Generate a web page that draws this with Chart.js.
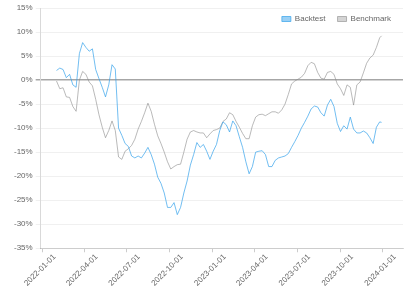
<!DOCTYPE html>
<html lang="en">
<head>
    <meta charset="UTF-8">
    <title>Backtest vs Benchmark</title>
    <script src="https://cdn.jsdelivr.net/npm/chart.js"></script>
    <style>
        html, body { margin: 0; padding: 0; background: #fff; }
        #wrap { width: 409px; height: 288px; }
    </style>
</head>
<body>
    <div id="wrap"><canvas id="perfChart"></canvas></div>

    <script>
        // Weekly observation dates
        const dates = [
            "2022-01-31","2022-02-07","2022-02-14","2022-02-21","2022-02-28","2022-03-07","2022-03-14","2022-03-21","2022-03-28",
            "2022-04-04","2022-04-11","2022-04-18","2022-04-25","2022-05-02","2022-05-09","2022-05-16","2022-05-23","2022-05-30",
            "2022-06-06","2022-06-13","2022-06-20","2022-06-27","2022-07-04","2022-07-11","2022-07-18","2022-07-25",
            "2022-08-01","2022-08-08","2022-08-15","2022-08-22","2022-08-29","2022-09-05","2022-09-12","2022-09-19","2022-09-26",
            "2022-10-03","2022-10-10","2022-10-17","2022-10-24","2022-10-31","2022-11-07","2022-11-14","2022-11-21","2022-11-28",
            "2022-12-05","2022-12-12","2022-12-19","2022-12-26",
            "2023-01-02","2023-01-09","2023-01-16","2023-01-23","2023-01-30","2023-02-06","2023-02-13","2023-02-20","2023-02-27",
            "2023-03-06","2023-03-13","2023-03-20","2023-03-27","2023-04-03","2023-04-10","2023-04-17","2023-04-24",
            "2023-05-01","2023-05-08","2023-05-15","2023-05-22","2023-05-29","2023-06-05","2023-06-12","2023-06-19","2023-06-26",
            "2023-07-03","2023-07-10","2023-07-17","2023-07-24","2023-07-31","2023-08-07","2023-08-14","2023-08-21","2023-08-28",
            "2023-09-04","2023-09-11","2023-09-18","2023-09-25","2023-10-02","2023-10-09","2023-10-16","2023-10-23","2023-10-30",
            "2023-11-06","2023-11-13","2023-11-20","2023-11-27","2023-12-04","2023-12-11","2023-12-18","2023-12-25","2023-12-29"
        ];

        // Cumulative return (%) of the strategy
        const backtest = [
            2, 2.5, 2.2, 0.5, 1.2, -1, -1.5, 5.5, 7.8,
            6.8, 6, 6.5, 2.2, 0.3, -1.5, -3.5, -1, 3.2,
            2.3, -10, -11.5, -13.2, -13.8, -15.8, -16.2, -15.8,
            -16.2, -15.2, -14, -15.5, -17.5, -20.2, -21.5, -23.5, -26.5,
            -26.5, -25.5, -28, -26.5, -23.5, -21, -17.7, -15.5, -13,
            -14, -13.4, -14.8, -16.5,
            -14.8, -13.4, -10.5, -8.7, -9.3, -10.8, -8.5, -9.5, -11.8,
            -14, -17, -19.5, -18, -15, -14.8, -14.7, -15.5,
            -18, -18, -16.7, -16.2, -16, -15.8, -15.3, -14, -12.8,
            -11.5, -10, -8.8, -7.5, -6, -5.4, -5.6, -6.8, -7.5,
            -5.2, -4, -5.5, -9, -10.7, -9.5, -10.2, -7.7, -10.2,
            -11, -11, -10.6, -11, -12, -13.2, -9.8, -8.7, -8.8
        ];

        // Cumulative return (%) of the benchmark
        const benchmark = [
            -0.2, -1.8, -1.6, -3.5, -3.6, -5.5, -6.5, 0, 1.8,
            1.2, -0.4, -1.2, -4, -7.2, -9.8, -12, -10.5, -8.5,
            -10.5, -16, -16.5, -14.8, -14.3, -13.6, -12.3, -10.2,
            -8.6, -6.8, -4.8, -6.5, -9.2, -11.6, -13.2, -15, -17,
            -18.5, -18, -17.6, -17.5, -15, -12.3, -10.8, -10.5, -10.8,
            -11, -11, -12, -11.2,
            -10.5, -10.3, -10, -8.6, -8.1, -6.8, -7.2, -8.6, -9.8,
            -11.1, -12.2, -12.2, -9.5, -7.7, -7.2, -7.1, -7.4,
            -7, -6.6, -6.6, -6.9, -6.2, -5, -3, -0.8, -0.2,
            0.2, 0.6, 1.4, 3, 3.7, 3.4, 1.6, 0.4, 0.2,
            1.6, 1.8, 1.2, -0.8, -1.8, -3.2, -1, -1.5, -5.2,
            -1, -0.4, 1.5, 3.5, 4.6, 5.2, 6.8, 8.8, 9.2
        ];

        // Quarter start labels on the x axis
        const tickDates = [
            "2022-01-01","2022-04-01","2022-07-01","2022-10-01",
            "2023-01-01","2023-04-01","2023-07-01","2023-10-01","2024-01-01"
        ];

        const yTicks = [15, 10, 5, 0, -5, -10, -15, -20, -25, -30, -35];

        // days since the first quarter label
        const origin = Date.parse(tickDates[0]);
        const dayOf = d => (Date.parse(d) - origin) / 86400000;
        const toDate = n => new Date(origin + n * 86400000).toISOString().slice(0, 10);

        // legend sits on top of the plot, so it takes no room in the layout
        const overlayLegend = {
            id: "overlayLegend",
            afterInit(chart) {
                const legend = chart.legend;
                const fit = legend.fit;
                const draw = legend.draw;
                const lift = 5;
                legend.fit = function () {
                    fit.call(this);
                    this._realHeight = this.height;
                    this.height = 0;
                };
                legend.draw = function () {
                    const top = this.top;
                    this.top = top - lift;
                    this.height = this._realHeight;
                    this.bottom = this.top + this._realHeight;
                    draw.call(this);
                    this.top = top;
                    this.height = 0;
                    this.bottom = top;
                };
            }
        };

        const ctx = document.getElementById("perfChart").getContext("2d");

        new Chart(ctx, {
            type: "line",
            data: {
                datasets: [
                    {
                        label: "Backtest",
                        data: dates.map((d, i) => ({ x: dayOf(d), y: backtest[i] })),
                        borderColor: "rgba(54, 162, 235, 0.7)",
                        backgroundColor: "rgba(54, 162, 235, 0.5)",
                        borderWidth: 1,
                        pointRadius: 0,
                        tension: 0
                    },
                    {
                        label: "Benchmark",
                        data: dates.map((d, i) => ({ x: dayOf(d), y: benchmark[i] })),
                        borderColor: "rgba(140, 140, 140, 0.6)",
                        backgroundColor: "rgba(170, 170, 170, 0.5)",
                        borderWidth: 1,
                        pointRadius: 0,
                        tension: 0
                    }
                ]
            },
            plugins: [overlayLegend],
            options: {
                responsive: true,
                maintainAspectRatio: false,
                animation: false,
                layout: { padding: { top: 8, right: 6, left: 11, bottom: 0 } },
                plugins: {
                    legend: {
                        position: "top",
                        align: "end",
                        labels: {
                            boxWidth: 9,
                            boxHeight: 5,
                            padding: 12,
                            color: "#666",
                            font: { size: 8, family: "Liberation Sans" }
                        }
                    },
                    tooltip: { enabled: false }
                },
                scales: {
                    x: {
                        type: "linear",
                        min: -4,
                        max: 773,
                        afterBuildTicks: axis => {
                            axis.ticks = tickDates.map(d => ({ value: dayOf(d) }));
                        },
                        ticks: {
                            callback: v => toDate(v),
                            minRotation: 45,
                            maxRotation: 45,
                            labelOffset: 12,
                            padding: 0,
                            color: "#666",
                            font: { size: 8, family: "Liberation Sans" }
                        },
                        grid: { drawOnChartArea: false, tickLength: 4, color: "rgba(0,0,0,0.2)" },
                        border: { color: "rgba(0,0,0,0.15)" }
                    },
                    y: {
                        min: -35,
                        max: 15,
                        afterBuildTicks: axis => {
                            axis.ticks = yTicks.map(v => ({ value: v }));
                        },
                        ticks: {
                            callback: v => v + "%",
                            color: "#666",
                            font: { size: 8, family: "Liberation Sans" }
                        },
                        grid: {
                            tickLength: 5,
                            color: ctx => ctx.tick && ctx.tick.value === 0 ? "rgba(0,0,0,0.35)" : "rgba(0,0,0,0.06)",
                            lineWidth: ctx => ctx.tick && ctx.tick.value === 0 ? 1.5 : 1
                        },
                        border: { color: "rgba(0,0,0,0.15)" }
                    }
                }
            }
        });
    </script>
</body>
</html>
